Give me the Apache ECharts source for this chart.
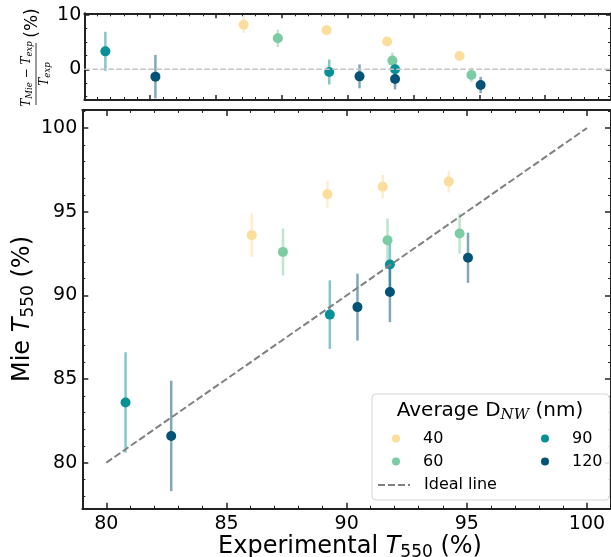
<!DOCTYPE html>
<html>
<head>
<meta charset="utf-8">
<script src="https://cdn.jsdelivr.net/npm/echarts@6/dist/echarts.min.js"></script>
<style>
html, body { margin: 0; padding: 0; background: #fff; }
#chart { width: 611px; height: 557px; }
</style>
</head>
<body>
<div id="chart"></div>
<script>
// nanowire diameter groups (nm)
const groups = ['40', '60', '90', '120'];
const colors = ['#fcde9c', '#7ccba2', '#089099', '#045275'];

// experimental T550 (%), one list per group
const expT = [
  [86.05, 89.2, 91.5, 94.25],
  [87.35, 91.7, 94.7],
  [80.8, 89.3, 91.8],
  [82.7, 90.45, 91.8, 95.05]
];
// Mie T550 (%)
const mieT = [
  [93.6, 96.05, 96.5, 96.8],
  [92.6, 93.3, 93.7],
  [83.6, 88.85, 91.85],
  [81.6, 89.3, 90.2, 92.25]
];
const mieErr = [
  [1.3, 0.8, 0.7, 0.65],
  [1.4, 1.3, 1.2],
  [3.0, 2.05, 1.7],
  [3.3, 2.0, 1.8, 1.5]
];
// (T_Mie - T_exp) / T_exp (%)
const relDiff = [
  [8.2, 7.2, 5.1, 2.45],
  [5.7, 1.6, -1.05],
  [3.3, -0.5, 0.0],
  [-1.35, -1.3, -1.8, -2.9]
];
const relErr = [
  [1.5, 0.9, 0.8, 0.7],
  [1.6, 1.5, 1.3],
  [3.6, 2.3, 1.9],
  [4.0, 2.2, 1.9, 1.5]
];
const idealLine = [[80, 80], [100, 100]];
const zeroLine = [[80, 0], [100, 0]];

// ticks
const mainXTicks = [80, 85, 90, 95, 100];
const mainYTicks = [80, 85, 90, 95, 100];
const topXTicks = [80, 82.5, 85, 87.5, 90, 92.5, 95, 97.5, 100];
const topYTicks = [0, 10];
const topYMinor = [-5, -2.5, 2.5, 5, 7.5];

function steps(a, b, s, skip) {
  let out = [];
  for (let v = a; v <= b + 1e-9; v += s) {
    v = Math.round(v * 100) / 100;
    if (skip.indexOf(v) < 0) out.push(v);
  }
  return out;
}
const mainXMinor = steps(79, 101, 1, mainXTicks);
const mainYMinor = steps(78, 101, 1, mainYTicks);
const topXMinor = steps(80, 100, 0.5, topXTicks);

const FONT = 'DejaVu Sans';
const INK = '#222';

function mkAxis(gridIndex, position, min, max, ticks, len, spine, labels, margin) {
  return {
    type: 'value',
    gridIndex: gridIndex,
    position: position,
    min: min,
    max: max,
    splitLine: { show: false },
    axisLine: { show: spine, onZero: false, lineStyle: { color: INK, width: 2 } },
    axisTick: {
      show: true,
      inside: true,
      length: len,
      customValues: ticks,
      lineStyle: { color: INK, width: len > 4 ? 1.5 : 1 }
    },
    axisLabel: labels
      ? { show: true, customValues: ticks, margin: margin, fontSize: 19, color: '#000', fontFamily: FONT }
      : { show: false }
  };
}

const xAxes = [
  mkAxis(0, 'bottom', 80, 100, topXTicks, 5, true, false),
  mkAxis(0, 'bottom', 80, 100, topXMinor, 3, false, false),
  mkAxis(0, 'top', 80, 100, topXTicks, 5, true, false),
  mkAxis(0, 'top', 80, 100, topXMinor, 3, false, false),
  mkAxis(1, 'bottom', 79, 101, mainXTicks, 6, true, true, 6),
  mkAxis(1, 'bottom', 79, 101, mainXMinor, 3, false, false),
  mkAxis(1, 'top', 79, 101, mainXTicks, 6, true, false),
  mkAxis(1, 'top', 79, 101, mainXMinor, 3, false, false)
];
const yAxes = [
  mkAxis(0, 'left', -5.65, 10.3, topYTicks, 5, true, true, 3),
  mkAxis(0, 'left', -5.65, 10.3, topYMinor, 3, false, false),
  mkAxis(0, 'right', -5.65, 10.3, topYTicks, 5, true, false),
  mkAxis(0, 'right', -5.65, 10.3, topYMinor, 3, false, false),
  mkAxis(1, 'left', 77.25, 101.08, mainYTicks, 6, true, true, 5),
  mkAxis(1, 'left', 77.25, 101.08, mainYMinor, 3, false, false),
  mkAxis(1, 'right', 77.25, 101.08, mainYTicks, 6, true, false),
  mkAxis(1, 'right', 77.25, 101.08, mainYMinor, 3, false, false)
];

function errRender(color) {
  return function (params, api) {
    const x = api.value(0);
    const p1 = api.coord([x, api.value(1)]);
    const p2 = api.coord([x, api.value(2)]);
    return {
      type: 'line',
      shape: { x1: p1[0], y1: p1[1], x2: p2[0], y2: p2[1] },
      style: { stroke: color, lineWidth: 2.5, opacity: 0.5 }
    };
  };
}

let series = [];
series.push({
  name: 'zero', type: 'line', xAxisIndex: 0, yAxisIndex: 0, data: zeroLine,
  symbol: 'none', silent: true,
  lineStyle: { color: '#c4c4c4', width: 1.5, type: [5.5, 2.5] }
});
series.push({
  name: 'Ideal line', type: 'line', xAxisIndex: 4, yAxisIndex: 4, data: idealLine,
  symbol: 'none', silent: true, color: '#808080',
  lineStyle: { color: '#808080', width: 2, type: [7, 3] }
});

groups.forEach(function (g, i) {
  const mainBars = expT[i].map(function (x, k) { return [x, mieT[i][k] - mieErr[i][k], mieT[i][k] + mieErr[i][k]]; });
  const mainPts = expT[i].map(function (x, k) { return [x, mieT[i][k]]; });
  const topBars = expT[i].map(function (x, k) { return [x, relDiff[i][k] - relErr[i][k], relDiff[i][k] + relErr[i][k]]; });
  const topPts = expT[i].map(function (x, k) { return [x, relDiff[i][k]]; });

  series.push({
    name: 'top err ' + g, type: 'custom', xAxisIndex: 0, yAxisIndex: 0,
    renderItem: errRender(colors[i]), encode: { x: 0, y: [1, 2] }, data: topBars, silent: true
  });
  series.push({
    name: 'top ' + g, type: 'scatter', xAxisIndex: 0, yAxisIndex: 0,
    data: topPts, symbolSize: 10, itemStyle: { color: colors[i], opacity: 1 }
  });
  series.push({
    name: 'err ' + g, type: 'custom', xAxisIndex: 4, yAxisIndex: 4,
    renderItem: errRender(colors[i]), encode: { x: 0, y: [1, 2] }, data: mainBars, silent: true
  });
  series.push({
    name: g, type: 'scatter', xAxisIndex: 4, yAxisIndex: 4,
    data: mainPts, symbolSize: 10, itemStyle: { color: colors[i], opacity: 1 }
  });
});

const legendText = { fontSize: 16, lineHeight: 16, color: '#000', fontFamily: FONT };

const option = {
  animation: false,
  backgroundColor: '#fff',
  grid: [
    { left: 84.3, top: 13.3, width: 534, height: 86.7 },
    { left: 82.3, top: 110, width: 535, height: 398.7 }
  ],
  xAxis: xAxes,
  yAxis: yAxes,
  legend: [
    {
      data: ['40', '60'], orient: 'vertical', left: 392, top: 430.5, padding: 0,
      itemWidth: 44, itemHeight: 8, itemGap: 7, icon: 'circle',
      selectedMode: false, textStyle: legendText
    },
    {
      data: ['90', '120'], orient: 'vertical', left: 541, top: 430.5, padding: 0,
      itemWidth: 44, itemHeight: 8, itemGap: 7, icon: 'circle',
      selectedMode: false, textStyle: legendText
    },
    {
      data: ['Ideal line'], orient: 'vertical', left: 377, top: 477, padding: 0,
      itemWidth: 32, itemHeight: 8, selectedMode: false,
      itemStyle: { opacity: 0 },
      textStyle: Object.assign({}, legendText, { padding: [0, 0, 0, 9] })
    }
  ],
  graphic: [
    {
      type: 'rect', z: 3, silent: true,
      shape: { x: 372, y: 394, width: 237.5, height: 106, r: 4 },
      style: { fill: 'rgba(255,255,255,0.85)', stroke: '#d6d6d6', lineWidth: 1 }
    },
    {
      type: 'text', z: 4, silent: true, x: 490, y: 411,
      style: {
        text: '{n|Average D}{s|NW}{n| (nm)}',
        align: 'center', verticalAlign: 'middle',
        rich: {
          n: { fontSize: 20, fontFamily: FONT, fill: '#000' },
          s: { fontSize: 15, fontFamily: 'DejaVu Serif', fontStyle: 'italic', fill: '#000', padding: [9, 0, 0, 0] }
        }
      }
    },
    {
      type: 'text', silent: true, x: 350, y: 547,
      style: {
        text: '{n|Experimental }{i|T}{s|550}{n| (%)}',
        align: 'center', verticalAlign: 'middle',
        rich: {
          n: { fontSize: 24, fontFamily: FONT, fill: '#000' },
          i: { fontSize: 24, fontFamily: FONT, fontStyle: 'italic', fill: '#000' },
          s: { fontSize: 17, fontFamily: FONT, fill: '#000', padding: [11, 0, 0, 0] }
        }
      }
    },
    {
      type: 'text', silent: true, x: 23, y: 309, rotation: Math.PI / 2,
      style: {
        text: '{n|Mie }{i|T}{s|550}{n| (%)}',
        align: 'center', verticalAlign: 'middle',
        rich: {
          n: { fontSize: 24, fontFamily: FONT, fill: '#000' },
          i: { fontSize: 24, fontFamily: FONT, fontStyle: 'italic', fill: '#000' },
          s: { fontSize: 17, fontFamily: FONT, fill: '#000', padding: [11, 0, 0, 0] }
        }
      }
    },
    {
      type: 'group', x: 36, y: 74, rotation: Math.PI / 2, silent: true,
      children: [
        {
          type: 'text', x: 0, y: -9,
          style: {
            text: '{t|T}{s|Mie}{t| − T}{s|exp}',
            align: 'center', verticalAlign: 'middle',
            rich: {
              t: { fontSize: 12, fontFamily: 'DejaVu Serif', fontStyle: 'italic', fill: '#000' },
              s: { fontSize: 8.5, fontFamily: 'DejaVu Serif', fontStyle: 'italic', fill: '#000', padding: [5, 0, 0, 0] }
            }
          }
        },
        {
          type: 'line',
          shape: { x1: -31, y1: 0, x2: 31, y2: 0 },
          style: { stroke: '#000', lineWidth: 0.8 }
        },
        {
          type: 'text', x: 0, y: 9,
          style: {
            text: '{t|T}{s|exp}',
            align: 'center', verticalAlign: 'middle',
            rich: {
              t: { fontSize: 12, fontFamily: 'DejaVu Serif', fontStyle: 'italic', fill: '#000' },
              s: { fontSize: 8.5, fontFamily: 'DejaVu Serif', fontStyle: 'italic', fill: '#000', padding: [5, 0, 0, 0] }
            }
          }
        },
        {
          type: 'text', x: 51, y: -3,
          style: { text: '(%)', fontSize: 17, fontFamily: FONT, fill: '#000', align: 'center', verticalAlign: 'middle' }
        }
      ]
    }
  ],
  series: series
};

const chart = echarts.init(document.getElementById('chart'), null, { renderer: 'canvas' });
chart.setOption(option);
</script>
</body>
</html>
